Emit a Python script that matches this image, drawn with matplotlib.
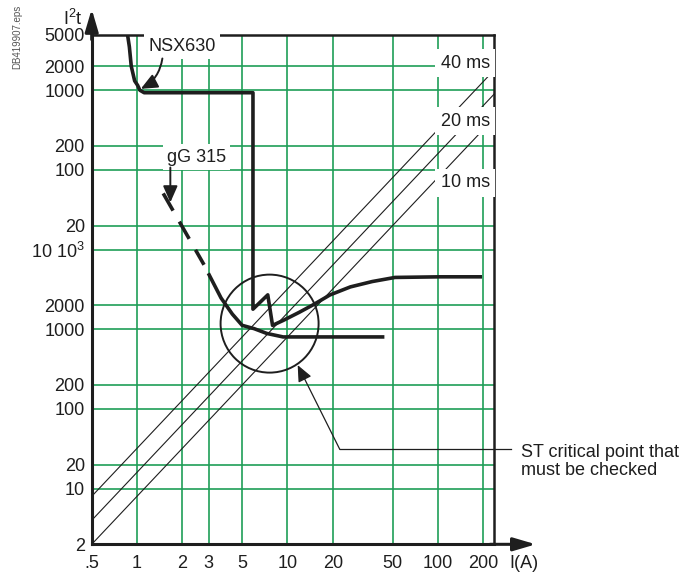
import matplotlib
matplotlib.use("Agg")
import matplotlib.pyplot as plt
from matplotlib.patches import Circle
from matplotlib.ticker import FixedLocator, FixedFormatter, NullLocator
from matplotlib.transforms import ScaledTranslation

# axis ticks (current in kA, energy I2t)
x_ticks = [0.5, 1, 2, 3, 5, 10, 20, 50, 100, 200]
x_labels = [".5", "1", "2", "3", "5", "10", "20", "50", "100", "200"]
y_ticks = [2, 10, 20, 100, 200, 1e3, 2e3, 1e4, 2e4, 1e5, 2e5, 1e6, 2e6, 5e6]
y_labels = ["2", "10", "20", "100", "200", "1000", "2000", r"10 10$^\mathrm{3}$",
            "20", "100", "200", "1000", "2000", "5000"]

# NSX630 breaker let-through curve
nsx_I = [0.865, 0.89, 0.916, 0.965, 1.01, 1.045, 1.116, 1.3, 5.9, 5.9,
         7.40, 7.96, 9.36, 11.95, 14.84, 19.2, 26.2, 36.6, 51.9, 104, 196.5]
nsx_I2t = [5e6, 3.5e6, 2e6, 1.31e6, 1.15e6, 1.0e6, 0.93e6, 0.93e6, 0.93e6, 1787,
           2700, 1119, 1289, 1628, 2030, 2700, 3400, 3970, 4470, 4550, 4550]

# gG 315 fuse curve (dashed part, then solid)
gg_dash_I = [1.494, 2.79]
gg_dash_I2t = [50700, 6440]
gg_I = [2.98, 3.62, 4.30, 5.0, 6.01, 7.29, 9.36, 44.1]
gg_I2t = [5040, 2470, 1552, 1120, 1017, 886, 801, 801]

# constant-time lines I2t = k * I^2, endpoints at the axis edges
diag_I = [0.5, 236]
diag_names = ["10 ms", "20 ms", "40 ms"]
diag_I2t = [[2, 4.45e5], [4, 8.9e5], [8, 1.78e6]]
diag_label_I = [152, 152, 152]
diag_label_I2t = [6.9e4, 4.08e5, 2.17e6]

# critical point circle
crit_I, crit_I2t = 7.61, 1177

plt.rcParams["font.family"] = ["Liberation Sans", "DejaVu Sans"]
plt.rcParams["font.size"] = 13
plt.rcParams["mathtext.fontset"] = "custom"
plt.rcParams["mathtext.rm"] = "Liberation Sans"
plt.rcParams["mathtext.it"] = "Liberation Sans:italic"

INK = "#1e1e1e"
GRID = "#1f9e58"

fig = plt.figure(figsize=(6.91, 5.76), dpi=100)
ax = fig.add_axes([0.1327, 0.0550, 0.5822, 0.8851])
ax.set_xscale("log")
ax.set_yscale("log")
ax.set_xlim(0.5, 236)
ax.set_ylim(2, 5e6)

ax.xaxis.set_major_locator(FixedLocator(x_ticks))
ax.xaxis.set_major_formatter(FixedFormatter(x_labels))
ax.yaxis.set_major_locator(FixedLocator(y_ticks))
ax.yaxis.set_major_formatter(FixedFormatter(y_labels))
ax.xaxis.set_minor_locator(NullLocator())
ax.yaxis.set_minor_locator(NullLocator())
ax.tick_params(length=0, labelsize=13, colors=INK)
ax.tick_params(axis="x", pad=8)
ax.tick_params(axis="y", pad=5)
ax.grid(True, color=GRID, lw=1.2)
ax.set_axisbelow(True)

for side in ["left", "bottom"]:
    ax.spines[side].set_linewidth(2.2)
for side in ["top", "right"]:
    ax.spines[side].set_linewidth(1.8)
for sp in ax.spines.values():
    sp.set_color(INK)

# axis arrows
head = "-|>,head_length=0.68,head_width=0.2"
ax.annotate("", xy=(0, 1.05), xytext=(0, 0.99), xycoords="axes fraction",
            arrowprops=dict(arrowstyle=head, lw=2.2, color=INK, mutation_scale=20,
                            shrinkA=0, shrinkB=0), annotation_clip=False)
ax.annotate("", xy=(1.104, 0), xytext=(0.99, 0), xycoords="axes fraction",
            arrowprops=dict(arrowstyle=head, lw=2.2, color=INK, mutation_scale=20,
                            shrinkA=0, shrinkB=0), annotation_clip=False)
ax.text(-0.0465, 1.03, r"I$^\mathrm{2}$t", transform=ax.transAxes, ha="center",
        va="center", color=INK)
ax.text(1.074, -0.037, "I(A)", transform=ax.transAxes, ha="center", va="center",
        color=INK)

# diagonal lines and their labels
for ys in diag_I2t:
    ax.plot(diag_I, ys, color=INK, lw=0.8, zorder=3)
for name, lx, ly in zip(diag_names, diag_label_I, diag_label_I2t):
    ax.text(lx, ly, name, ha="center", va="center", color=INK, zorder=6,
            bbox=dict(facecolor="white", edgecolor="none", pad=4))

# curves
ax.plot(nsx_I, nsx_I2t, color=INK, lw=2.6, zorder=5,
        solid_joinstyle="round", solid_capstyle="butt")
ax.plot(gg_dash_I, gg_dash_I2t, color=INK, lw=2.6, zorder=5,
        linestyle=(0, (5.5, 3.5)), dash_capstyle="butt")
ax.plot(gg_I, gg_I2t, color=INK, lw=2.6, zorder=5,
        solid_joinstyle="round", solid_capstyle="butt")

# circle around the critical point (round on screen)
circ = Circle((0, 0), 0.49, fill=False, lw=1.4, edgecolor=INK, zorder=5,
              transform=fig.dpi_scale_trans + ScaledTranslation(crit_I, crit_I2t, ax.transData))
ax.add_patch(circ)

# labels with arrows
small_head = "-|>,head_length=0.5,head_width=0.22"
ax.text(2.0, 3.5e6, "NSX630", ha="center", va="center", color=INK, zorder=6,
        bbox=dict(facecolor="white", edgecolor="none", pad=3))
ax.annotate("", xy=(1.06, 1.04e6), xytext=(1.475, 2.5e6),
            arrowprops=dict(arrowstyle=small_head, lw=1.4, color=INK, mutation_scale=20,
                            connectionstyle="arc3,rad=-0.25", shrinkA=0, shrinkB=0),
            zorder=6)
ax.text(2.48, 1.446e5, "gG 315", ha="center", va="center", color=INK, zorder=6,
        bbox=dict(facecolor="white", edgecolor="none", pad=3))
ax.annotate("", xy=(1.666, 3.9e4), xytext=(1.666, 1.07e5),
            arrowprops=dict(arrowstyle=small_head, lw=1.4, color=INK, mutation_scale=20,
                            shrinkA=0, shrinkB=0), zorder=6)

ax.plot([304, 22.3], [31, 31], color=INK, lw=0.9, clip_on=False, zorder=6)
ax.annotate("", xy=(11.7, 355), xytext=(22.3, 31),
            arrowprops=dict(arrowstyle=small_head, lw=0.9, color=INK, mutation_scale=20,
                            shrinkA=0, shrinkB=0), zorder=6)
ax.annotate("ST critical point that\nmust be checked", xy=(304, 31),
            xytext=(7.5, -8.5), textcoords="offset points", ha="left", va="center",
            linespacing=1.1, color=INK, annotation_clip=False)

fig.text(17.5 / 691, 1 - 37 / 576, "DB419907.eps", rotation=90, ha="center",
         va="center", fontsize=7, color="#555555")

fig.savefig("out.png", dpi=100)
